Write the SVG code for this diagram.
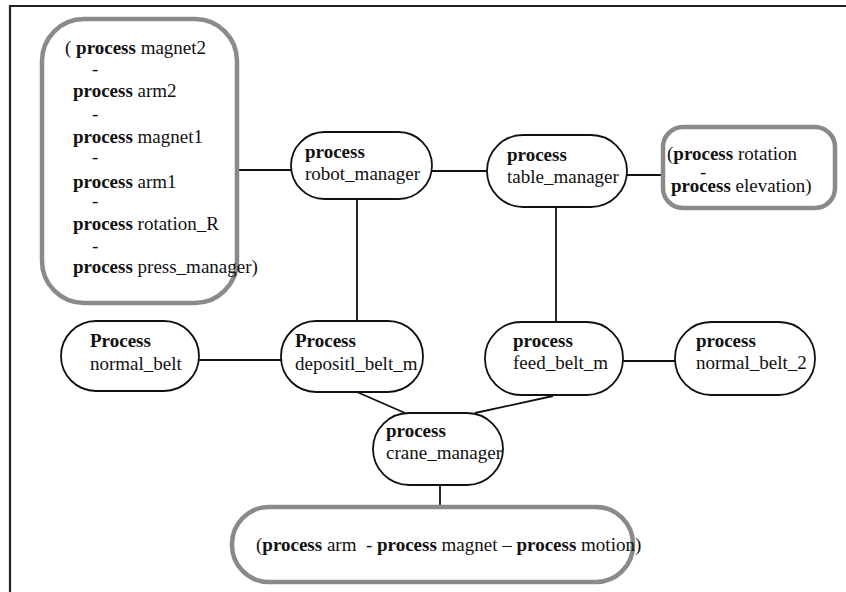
<svg xmlns="http://www.w3.org/2000/svg" width="846" height="592" viewBox="0 0 846 592">
  <style>
    text { font-family: "Liberation Serif", "Times New Roman", serif; font-size: 19px; fill: #111; white-space: pre; }
    .b { font-weight: bold; }
    .node { fill: #fff; stroke: #111; stroke-width: 1.8; }
    .group { fill: #fff; stroke: #8a8a8a; stroke-width: 4.5; }
    .edge { stroke: #111; stroke-width: 1.8; fill: none; }
    .frame { stroke: #222; stroke-width: 2.2; fill: none; }
  </style>
  <rect width="846" height="592" fill="#fff"/>
  <!-- outer frame (top and left edges) -->
  <path class="frame" d="M10 592 V6 H846"/>

  <g id="connectors">
    <line class="edge" x1="237" y1="170" x2="291" y2="170"/>
    <line class="edge" x1="432" y1="171" x2="487" y2="171"/>
    <line class="edge" x1="627" y1="175" x2="663" y2="175"/>
    <line class="edge" x1="357" y1="199" x2="357" y2="321"/>
    <line class="edge" x1="556" y1="207" x2="556" y2="322"/>
    <line class="edge" x1="199" y1="360" x2="281" y2="360"/>
    <line class="edge" x1="623" y1="361" x2="675" y2="361"/>
    <line class="edge" x1="357" y1="392" x2="405" y2="413"/>
    <line class="edge" x1="553" y1="396" x2="475" y2="413"/>
    <line class="edge" x1="440" y1="485" x2="440" y2="507"/>
  </g>

  <g id="arm_group">
    <rect class="group" x="42" y="19" width="195" height="284" rx="42"/>
    <text x="65" y="54">( <tspan class="b">process</tspan> magnet2</text>
    <text x="92" y="75">-</text>
    <text x="73" y="97"><tspan class="b">process</tspan> arm2</text>
    <text x="92" y="120">-</text>
    <text x="73" y="143"><tspan class="b">process</tspan> magnet1</text>
    <text x="92" y="163">-</text>
    <text x="73" y="188"><tspan class="b">process</tspan> arm1</text>
    <text x="92" y="207">-</text>
    <text x="73" y="230"><tspan class="b">process</tspan> rotation_R</text>
    <text x="92" y="252">-</text>
    <text x="73" y="273"><tspan class="b">process</tspan> press_manager)</text>
  </g>

  <g id="robot_manager">
    <rect class="node" x="291" y="132" width="141" height="67" rx="33.5"/>
    <text x="305" y="158" class="b">process</text>
    <text x="305" y="180">robot_manager</text>
  </g>

  <g id="table_manager">
    <rect class="node" x="487" y="135" width="140" height="72" rx="36"/>
    <text x="507" y="161" class="b">process</text>
    <text x="507" y="183">table_manager</text>
  </g>

  <g id="table_group">
    <rect class="group" x="663" y="127" width="172" height="81" rx="20"/>
    <text x="667" y="160">(<tspan class="b">process</tspan> rotation</text>
    <text x="700" y="178">-</text>
    <text x="671" y="192"><tspan class="b">process</tspan> elevation)</text>
  </g>

  <g id="normal_belt">
    <rect class="node" x="61" y="321" width="138" height="70" rx="35"/>
    <text x="90" y="347" class="b">Process</text>
    <text x="90" y="370">normal_belt</text>
  </g>

  <g id="depositl_belt_m">
    <rect class="node" x="281" y="321" width="142" height="71" rx="35"/>
    <text x="295" y="347" class="b">Process</text>
    <text x="295" y="370">depositl_belt_m</text>
  </g>

  <g id="feed_belt_m">
    <rect class="node" x="485" y="322" width="138" height="73" rx="36"/>
    <text x="513" y="347" class="b">process</text>
    <text x="513" y="369">feed_belt_m</text>
  </g>

  <g id="normal_belt_2">
    <rect class="node" x="675" y="322" width="140" height="73" rx="36"/>
    <text x="696" y="347" class="b">process</text>
    <text x="696" y="369">normal_belt_2</text>
  </g>

  <g id="crane_manager">
    <rect class="node" x="373" y="413" width="130" height="72" rx="36"/>
    <text x="386" y="437" class="b">process</text>
    <text x="386" y="459">crane_manager</text>
  </g>

  <g id="crane_group">
    <rect class="group" x="232" y="507" width="401" height="75" rx="37"/>
    <text x="256" y="551">(<tspan class="b">process</tspan> arm  - <tspan class="b">process</tspan> magnet – <tspan class="b">process</tspan> motion)</text>
  </g>
</svg>
